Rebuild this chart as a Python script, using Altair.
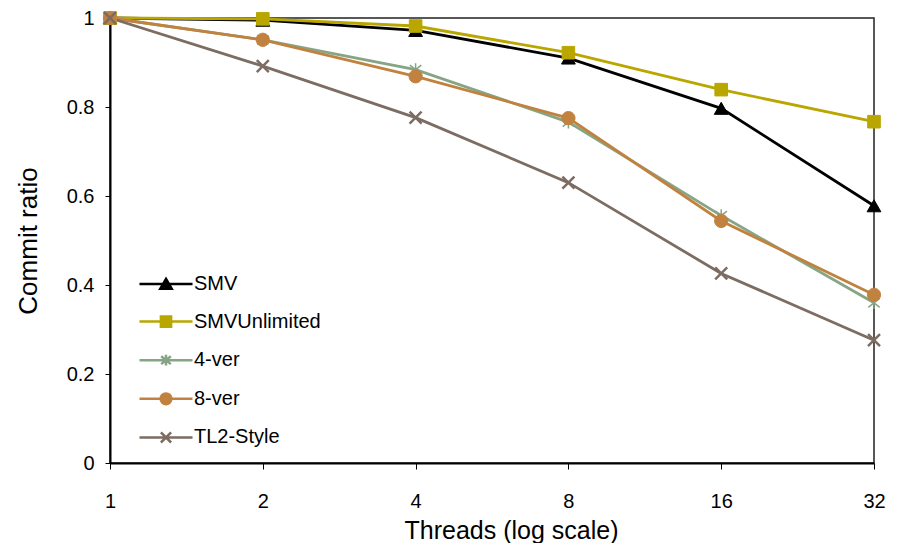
import altair as alt
import pandas as pd

# ---- data ----
threads = [1, 2, 4, 8, 16, 32]
series_names = ["SMV", "SMVUnlimited", "4-ver", "8-ver", "TL2-Style"]
smv = [1.0, 0.995, 0.972, 0.910, 0.797, 0.578]
smv_unlimited = [1.0, 0.998, 0.982, 0.922, 0.839, 0.767]
ver4 = [1.0, 0.951, 0.884, 0.766, 0.556, 0.360]
ver8 = [1.0, 0.951, 0.869, 0.775, 0.544, 0.378]
tl2_style = [1.0, 0.892, 0.776, 0.630, 0.426, 0.276]
y_ticks = [0, 0.2, 0.4, 0.6, 0.8, 1.0]

colors = ["#000000", "#B9A700", "#86A585", "#C1823F", "#7C6C62"]

# marker paths (unit = sqrt(size)/2 px), in series order
marker_paths = [
    "M0,-1L1.15,1L-1.15,1Z",                                      # SMV: triangle
    "M-1.05,-1.05H1.05V1.05H-1.05Z",                               # SMVUnlimited: square
    "M0,-1.05V1.05M-0.95,-0.75L0.95,0.75M-0.95,0.75L0.95,-0.75",   # 4-ver: asterisk
    "M1.1,0A1.1,1.1,0,1,1,-1.1,0A1.1,1.1,0,1,1,1.1,0Z",            # 8-ver: circle
    "M-1,-1L1,1M-1,1L1,-1",                                        # TL2-Style: x
]
marker_widths = [1, 1, 1.5, 1, 2.5]
line_seg = "M-4.42,0H4.42"
legend_paths = [
    line_seg + "M0,-0.85L0.95,0.8L-0.95,0.8Z",
    line_seg + "M-0.85,-0.85H0.85V0.85H-0.85Z",
    line_seg + "M0,-0.9V0.9M-0.8,-0.65L0.8,0.65M-0.8,0.65L0.8,-0.65",
    line_seg + "M0.9,0A0.9,0.9,0,1,1,-0.9,0A0.9,0.9,0,1,1,0.9,0Z",
    line_seg + "M-0.85,-0.85L0.85,0.85M-0.85,0.85L0.85,-0.85",
]

values = [smv, smv_unlimited, ver4, ver8, tl2_style]
rows = []
for name, vals in zip(series_names, values):
    for t, v in zip(threads, vals):
        rows.append({"series": name, "threads": t, "ratio": v})
df = pd.DataFrame(rows)

FONT = "Liberation Sans"

x_enc = alt.X(
    "threads:Q",
    scale=alt.Scale(type="log", domain=[1, 32], nice=False),
    axis=alt.Axis(
        values=threads, format="d", tickSize=6, labelPadding=38,
        labelBaseline="alphabetic", labelFontSize=20, labelFlush=False,
        title="Threads (log scale)", titleFontSize=25, titleFontWeight="normal",
        titleX=401, titleY=75, titleAlign="center", titleBaseline="alphabetic",
    ),
)
y_enc = alt.Y(
    "ratio:Q",
    scale=alt.Scale(domain=[0, 1], nice=False),
    axis=alt.Axis(
        values=y_ticks, format=".1~f", tickSize=5, labelPadding=11,
        labelFontSize=20, labelFlush=False,
        title="Commit ratio", titleFontSize=26, titleFontWeight="normal",
        titleX=-74, titleY=222.5, titleAlign="center", titleBaseline="alphabetic",
        titleAngle=270,
    ),
)

color_scale = alt.Scale(domain=series_names, range=colors)

leg = alt.Legend(
    orient="none", legendX=46, legendY=256, title=None,
    symbolSize=144, symbolStrokeWidth=2.5,
    symbolFillColor="#000000", symbolStrokeColor="#000000", symbolOpacity=1,
    labelOffset=18, rowPadding=16.6, padding=0,
    labelFontSize=20, labelFont=FONT, labelColor="black", labelLimit=300,
)

# hidden layer that only carries the legend
legend_layer = alt.Chart(df).mark_point(filled=True, strokeWidth=2.5).encode(
    x=x_enc, y=y_enc,
    size=alt.value(0),
    shape=alt.Shape("series:N", scale=alt.Scale(domain=series_names, range=legend_paths), legend=leg),
    fill=alt.Fill("series:N", scale=color_scale, legend=leg),
    stroke=alt.Stroke("series:N", scale=color_scale, legend=leg),
)

lines = alt.Chart(df).mark_line(strokeWidth=2.8).encode(
    x=x_enc, y=y_enc,
    color=alt.Color("series:N", scale=color_scale, legend=None),
)

layers = [legend_layer, lines]
for name, path, col, w in zip(series_names, marker_paths, colors, marker_widths):
    layers.append(
        alt.Chart(df).transform_filter(alt.datum.series == name).mark_point(
            shape=path, filled=True, size=144, fill=col, stroke=col,
            strokeWidth=w, opacity=1,
        ).encode(x=x_enc, y=y_enc)
    )

chart = alt.layer(*layers).properties(
    width=764, height=445,
    padding={"left": 102, "top": 10, "right": 15, "bottom": 80},
    autosize=alt.AutoSizeParams(type="none"),
).configure_view(
    stroke="#222222", strokeWidth=1.5,
).configure_axis(
    grid=False, domainColor="black", domainWidth=2, tickColor="black",
    tickWidth=1, labelColor="black", titleColor="black",
    labelFont=FONT, titleFont=FONT,
)

chart.save("out.html", embed_options={"renderer": "svg", "actions": False})
